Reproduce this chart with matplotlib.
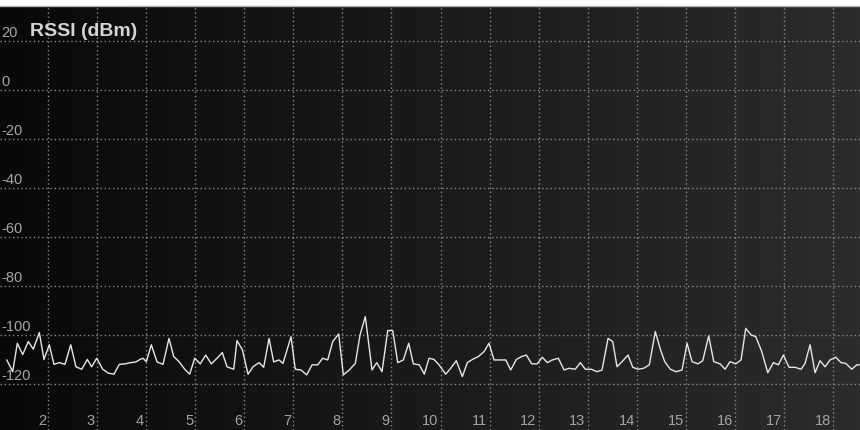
import numpy as np
import matplotlib.pyplot as plt

# channel positions and RSSI readings (dBm) of the trace
channel = [1.16, 1.28, 1.375, 1.484, 1.598, 1.70, 1.823, 1.918, 2.026, 2.122,
           2.23, 2.346, 2.463, 2.57, 2.687, 2.801, 2.89, 2.993, 3.115, 3.229,
           3.345, 3.453, 3.57, 3.686, 3.794, 3.875, 3.936, 4.004, 4.106, 4.222,
           4.344, 4.466, 4.562, 4.67, 4.786, 4.888, 4.99, 5.104, 5.214, 5.329,
           5.445, 5.553, 5.649, 5.785, 5.852, 5.96, 6.077, 6.178, 6.301, 6.396,
           6.505, 6.6, 6.708, 6.79, 6.953, 7.04, 7.157, 7.273, 7.381, 7.497,
           7.599, 7.701, 7.803, 7.925, 8.019, 8.141, 8.264, 8.36, 8.467, 8.604,
           8.7, 8.808, 8.924, 9.026, 9.128, 9.242, 9.352, 9.446, 9.568, 9.67,
           9.766, 9.868, 9.97, 10.106, 10.208, 10.322, 10.445, 10.547, 10.649, 10.771,
           10.887, 10.989, 11.091, 11.33, 11.431, 11.546, 11.656, 11.749, 11.859, 11.973,
           12.075, 12.177, 12.279, 12.402, 12.518, 12.62, 12.748, 12.85, 12.952, 13.074,
           13.19, 13.292, 13.415, 13.51, 13.598, 13.7, 13.822, 13.918, 14.026, 14.142,
           14.256, 14.378, 14.48, 14.57, 14.684, 14.8, 14.923, 15.025, 15.127, 15.249,
           15.345, 15.467, 15.569, 15.698, 15.8, 15.902, 16.018, 16.126, 16.222, 16.33,
           16.426, 16.548, 16.67, 16.784, 16.886, 16.988, 17.104, 17.226, 17.349, 17.43,
           17.532, 17.634, 17.736, 17.838, 17.94, 18.056, 18.164, 18.26, 18.382, 18.484,
           18.55]
rssi = [-110.2, -115, -103.4, -108, -102.7, -105.8, -99, -110, -104, -112,
        -111.3, -112, -104, -113, -114, -110, -113, -109.5, -114, -115.6,
        -116, -112, -111.8, -111.3, -111, -110, -109.5, -110.9, -104, -111,
        -112, -101.4, -108.8, -110.9, -114, -116, -109.5, -111.8, -108.2, -111.8,
        -109.5, -107.2, -113, -114, -102.3, -106, -116, -113, -111.3, -113.2,
        -101.4, -111, -110.2, -111.6, -100.7, -114, -114.3, -116.3, -112.2, -112.2,
        -109.5, -110.2, -102.7, -99.6, -116.3, -114.3, -111.6, -100, -92.5, -114.3,
        -111.3, -115, -98.2, -98.2, -111.3, -110.2, -103.4, -111.8, -112.2, -116,
        -109.5, -110, -112.2, -116, -113.6, -110.5, -117, -111.3, -110, -108.8,
        -106.8, -103.4, -110.2, -110.2, -114.3, -110, -108.8, -108.2, -111.8, -111.8,
        -109.1, -111.3, -110.2, -109.5, -114.3, -113.6, -114, -111.3, -114, -114,
        -115, -114.3, -101.4, -102.7, -113, -110.9, -108.2, -113.2, -114, -113.6,
        -112.2, -98.6, -105.8, -110.9, -114, -115, -114.3, -103.4, -110.9, -111.8,
        -110.5, -100.4, -110.9, -111.8, -114, -110.9, -111.8, -110.2, -97.3, -100,
        -100.7, -106.8, -115.4, -111.3, -112.2, -108.2, -113.2, -113.2, -114, -111.6,
        -104, -115.4, -110.5, -113, -110.2, -109.1, -111.3, -111.6, -114, -112.2,
        -112.2]

x_ticks = list(range(2, 19))
y_ticks = [20, 0, -20, -40, -60, -80, -100, -120]

fig = plt.figure(figsize=(8.6, 4.3), dpi=100, facecolor='white')
ax = fig.add_axes([0, 0, 1, 424 / 430])
xmin, xmax = 1.0216, 18.55
ymin, ymax = -138.8, 34.3
ax.set_xlim(xmin, xmax)
ax.set_ylim(ymin, ymax)

# dark background, a bit lighter towards the right
grad = np.linspace(0, 1, 256).reshape(1, -1)
ax.imshow(grad, extent=[xmin, xmax, ymin, ymax], aspect='auto',
          cmap=plt.matplotlib.colors.LinearSegmentedColormap.from_list(
              'bg', ['#090909', '#2c2c2c']), zorder=0)

for c in x_ticks:
    ax.axvline(c, color='#8a8a8a', lw=1, linestyle=(0, (1, 2)), zorder=1)
    ax.annotate(str(c), xy=(c, 0), xycoords=('data', 'axes fraction'),
                xytext=(-1.5, 1.5), textcoords='offset points', ha='right', va='bottom',
                color='#a4a4a4', fontsize=10.5, family='Liberation Sans')
for v in y_ticks:
    ax.axhline(v, color='#8a8a8a', lw=1, linestyle=(0, (1, 2)), zorder=1)
    ax.annotate(str(v), xy=(0, v), xycoords=('axes fraction', 'data'),
                xytext=(1, 1), textcoords='offset points', ha='left', va='bottom',
                color='#a4a4a4', fontsize=10.5, family='Liberation Sans')

ax.annotate('RSSI (dBm)', xy=(0, 20), xycoords=('axes fraction', 'data'),
            xytext=(21.5, 1), textcoords='offset points', ha='left', va='bottom',
            color='#d4d4d4', fontsize=14, fontweight='bold', family='Liberation Sans')

ax.plot(channel, rssi, color='#e6e6e6', lw=1, zorder=3)

ax.set_xticks([])
ax.set_yticks([])
for s in ['left', 'right', 'bottom']:
    ax.spines[s].set_visible(False)
ax.spines['top'].set_color('#b0b0b0')
ax.spines['top'].set_linewidth(1)

fig.savefig('out.png', dpi=100, facecolor='white')
